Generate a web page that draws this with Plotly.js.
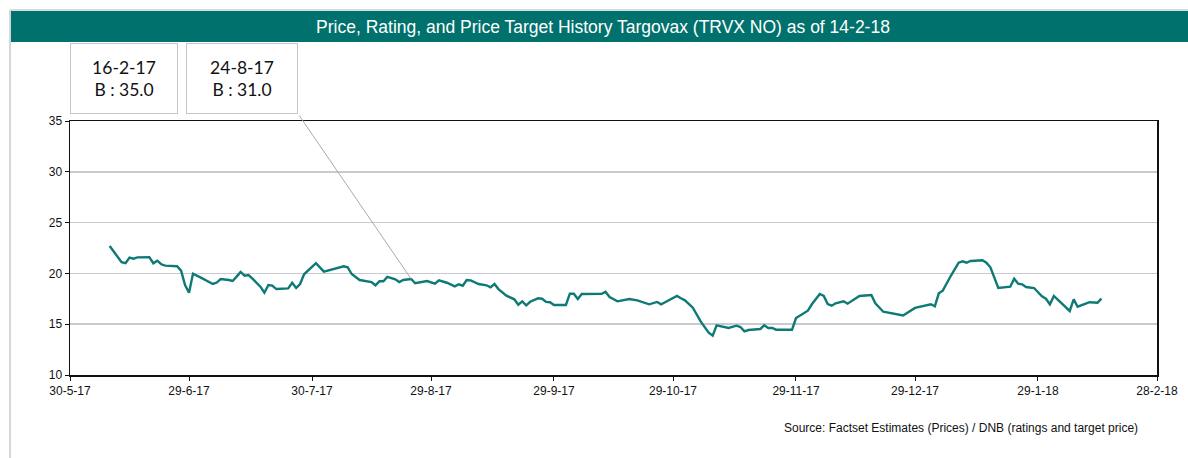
<!DOCTYPE html>
<html>
<head>
<meta charset="utf-8">
<script src="https://cdn.plot.ly/plotly-3.0.1.min.js"></script>
<style>
html,body{margin:0;padding:0;background:#fff;}
#chart{width:1188px;height:458px;}
</style>
</head>
<body>
<div id="chart"></div>
<script>
// Price history (TRVX NO)
var priceDates = [
'2017-06-09','2017-06-12','2017-06-13','2017-06-14','2017-06-15','2017-06-16','2017-06-19','2017-06-20','2017-06-21','2017-06-22',
'2017-06-23','2017-06-26','2017-06-27','2017-06-28','2017-06-29','2017-06-30','2017-07-02','2017-07-04','2017-07-05','2017-07-06',
'2017-07-07','2017-07-09','2017-07-10','2017-07-11','2017-07-12','2017-07-13','2017-07-14','2017-07-15','2017-07-16','2017-07-17',
'2017-07-18','2017-07-19','2017-07-20','2017-07-21','2017-07-24','2017-07-25','2017-07-26','2017-07-27','2017-07-28','2017-07-31',
'2017-08-02','2017-08-07','2017-08-08','2017-08-09','2017-08-11','2017-08-14','2017-08-15','2017-08-16','2017-08-17','2017-08-18',
'2017-08-20','2017-08-21','2017-08-22','2017-08-24','2017-08-25','2017-08-26','2017-08-28','2017-08-30','2017-08-31','2017-09-02',
'2017-09-04','2017-09-05','2017-09-06','2017-09-07','2017-09-08','2017-09-10','2017-09-12','2017-09-13','2017-09-14','2017-09-15',
'2017-09-17','2017-09-19','2017-09-20','2017-09-21','2017-09-22','2017-09-23','2017-09-25','2017-09-26','2017-09-27','2017-09-28',
'2017-09-29','2017-10-02','2017-10-03','2017-10-04','2017-10-05','2017-10-06','2017-10-11','2017-10-12','2017-10-13','2017-10-15',
'2017-10-18','2017-10-20','2017-10-23','2017-10-25','2017-10-26','2017-10-27','2017-10-30','2017-10-31','2017-11-01','2017-11-03',
'2017-11-05','2017-11-07','2017-11-08','2017-11-09','2017-11-10','2017-11-12','2017-11-14','2017-11-15','2017-11-16','2017-11-17',
'2017-11-20','2017-11-21','2017-11-22','2017-11-23','2017-11-24','2017-11-28','2017-11-29','2017-11-30','2017-12-02','2017-12-03',
'2017-12-05','2017-12-06','2017-12-07','2017-12-08','2017-12-09','2017-12-11','2017-12-12','2017-12-15','2017-12-18','2017-12-19',
'2017-12-21','2017-12-26','2017-12-28','2017-12-29','2018-01-02','2018-01-03','2018-01-04','2018-01-05','2018-01-07','2018-01-09',
'2018-01-10','2018-01-11','2018-01-12','2018-01-15','2018-01-16','2018-01-17','2018-01-19','2018-01-22','2018-01-23','2018-01-24',
'2018-01-25','2018-01-26','2018-01-28','2018-01-30','2018-01-31','2018-02-01','2018-02-02','2018-02-04','2018-02-06','2018-02-07',
'2018-02-08','2018-02-11','2018-02-13','2018-02-14'
];
var priceValues = [
22.70,21.10,21.00,21.55,21.45,21.58,21.60,21.00,21.25,20.90,
20.76,20.70,20.27,18.86,18.10,19.97,19.58,19.18,18.96,19.10,
19.45,19.35,19.25,19.68,20.14,19.77,19.84,19.48,19.12,18.69,
18.10,18.86,18.79,18.46,18.53,19.08,18.56,18.96,19.91,21.00,
20.17,20.70,20.60,19.94,19.35,19.15,18.83,19.22,19.22,19.65,
19.42,19.15,19.35,19.45,19.03,19.12,19.25,18.99,19.32,19.08,
18.73,18.93,18.79,19.35,19.32,18.96,18.83,18.63,18.96,18.46,
17.81,17.45,16.92,17.25,16.86,17.21,17.55,17.51,17.19,17.16,
16.89,16.89,18.00,18.00,17.48,17.97,18.00,18.20,17.68,17.25,
17.48,17.35,16.96,17.19,16.96,17.16,17.78,17.55,17.35,16.62,
15.25,14.16,13.87,14.89,14.82,14.63,14.85,14.72,14.30,14.43,
14.53,14.89,14.63,14.63,14.46,14.46,15.61,15.84,16.33,16.96,
17.97,17.78,16.99,16.82,17.06,17.25,17.02,17.78,17.87,17.06,
16.23,15.86,16.40,16.60,16.96,16.76,18.04,18.30,19.74,21.05,
21.19,21.05,21.22,21.29,21.05,20.60,18.56,18.69,19.48,18.99,
18.93,18.66,18.56,17.75,17.51,16.96,17.78,16.99,16.30,17.45,
16.72,17.16,17.12,17.51
];

// Rating / target price history
var ratingDateLabels = ['16-2-17', '24-8-17'];
var ratingDatesISO  = ['2017-02-16', '2017-08-24'];
var ratingCodes     = ['B', 'B'];
var targetPrices    = [35.0, 31.0];

// Axis ticks
var xTickDates  = ['2017-05-30','2017-06-29','2017-07-30','2017-08-29','2017-09-29','2017-10-29','2017-11-29','2017-12-29','2018-01-29','2018-02-28'];
var xTickLabels = ['30-5-17','29-6-17','30-7-17','29-8-17','29-9-17','29-10-17','29-11-17','29-12-17','29-1-18','28-2-18'];
var yTickVals   = [10, 15, 20, 25, 30, 35];

var titleText  = 'Price, Rating, and Price Target History Targovax (TRVX NO) as of 14-2-18';
var sourceText = 'Source: Factset Estimates (Prices) / DNB (ratings and target price)';

var teal = '#0E7A76';
var W = 1188, H = 458;
var L = 70, R = 31, T = 121, B = 83;
var pw = W - L - R, ph = H - T - B;
function px(xp){ return (xp - L) / pw; }
function py(yp){ return (H - B - yp) / ph; }

var trace = {
  x: priceDates, y: priceValues, type: 'scatter', mode: 'lines',
  line: {color: teal, width: 2.4}, hoverinfo: 'x+y'
};

var annotations = [];
var boxCenters = [124, 242], boxWidths = [106, 110];
for (var i = 0; i < ratingDateLabels.length; i++) {
  annotations.push({
    xref: 'paper', yref: 'paper', x: px(boxCenters[i]), y: py(78.5),
    xanchor: 'center', yanchor: 'middle', showarrow: false,
    text: ratingDateLabels[i] + '<br>' + ratingCodes[i] + ' : ' + targetPrices[i].toFixed(1),
    font: {family: 'Lato, "Open Sans", sans-serif', size: 17.5, color: '#111'},
    bordercolor: '#c3c6cd', borderwidth: 1, borderpad: 0,
    width: boxWidths[i], height: 69, bgcolor: 'rgba(255,255,255,0)', align: 'center'
  });
}
// leader line from the second box to the price on that rating date
var idx = priceDates.indexOf(ratingDatesISO[1]);
if (idx >= 0) {
  annotations.push({
    x: priceDates[idx], y: priceValues[idx], xref: 'x', yref: 'y',
    text: '', showarrow: true, arrowhead: 0, arrowwidth: 1, arrowcolor: '#a9a9a9',
    ax: -113, ay: -165, standoff: 0, startstandoff: 0
  });
}
annotations.push({
  xref: 'paper', yref: 'paper', x: px(1140), y: py(428), xanchor: 'right', yanchor: 'middle',
  showarrow: false, text: sourceText,
  font: {family: '"Liberation Sans", Arial, sans-serif', size: 12, color: '#111'}
});

var layout = {
  width: W, height: H,
  margin: {l: L, r: R, t: T, b: B, pad: 0},
  paper_bgcolor: '#fff', plot_bgcolor: '#fff',
  showlegend: false,
  title: {
    text: titleText, xref: 'container', x: 603 / W, xanchor: 'center',
    yref: 'container', y: 1 - 26.5 / H, yanchor: 'middle',
    font: {family: '"Liberation Sans", Arial, sans-serif', size: 17.5, color: '#ffffff'}
  },
  xaxis: {
    type: 'date', range: ['2017-05-30', '2018-02-28'],
    tickmode: 'array', tickvals: xTickDates, ticktext: xTickLabels,
    showgrid: false, zeroline: false,
    showline: true, linecolor: '#111', linewidth: 1.5, mirror: true,
    ticks: 'outside', ticklen: 4, tickcolor: '#111', tickwidth: 1,
    tickfont: {family: '"Liberation Sans", Arial, sans-serif', size: 12, color: '#111'}
  },
  yaxis: {
    range: [10, 35], tickmode: 'array', tickvals: yTickVals,
    showgrid: true, gridcolor: '#c8cacf', gridwidth: 1.5, zeroline: false,
    showline: true, linecolor: '#111', linewidth: 1.5, mirror: true,
    ticks: 'outside', ticklen: 4, tickcolor: '#111', tickwidth: 1,
    tickfont: {family: '"Liberation Sans", Arial, sans-serif', size: 12, color: '#111'}
  },
  shapes: [
    {type: 'rect', xref: 'paper', yref: 'paper', x0: px(10), x1: px(1192), y0: py(42), y1: py(11),
     fillcolor: '#00716C', line: {width: 0}, layer: 'below'},
    {type: 'line', xref: 'paper', yref: 'paper', x0: px(10), x1: px(1192), y0: py(10), y1: py(10),
     line: {color: '#cfcfcf', width: 1.5}},
    {type: 'line', xref: 'paper', yref: 'paper', x0: px(10), x1: px(10), y0: py(10), y1: py(470),
     line: {color: '#d6d6d6', width: 2}}
  ],
  annotations: annotations
};

Plotly.newPlot('chart', [trace], layout, {displayModeBar: false, staticPlot: true});
</script>
</body>
</html>
